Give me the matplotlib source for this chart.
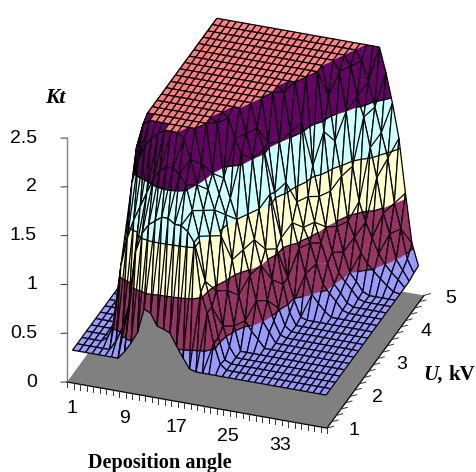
import matplotlib
matplotlib.use('Agg')
import numpy as np
import matplotlib.pyplot as plt
from mpl_toolkits.mplot3d import proj3d
from mpl_toolkits.mplot3d.art3d import Poly3DCollection, Line3DCollection

plt.rcParams['font.family'] = ['Liberation Sans', 'DejaVu Sans']

# categories along both floor axes
angle = list(range(1, 41))
voltage = [1.0, 1.2, 1.4, 1.6, 1.8, 2.0, 2.2, 2.4, 2.6, 2.8, 3.0, 3.2, 3.4, 3.6, 3.8, 4.0, 4.2, 4.4, 4.6, 4.8, 5.0]
angle_labels = [1, 9, 17, 25, 33]
voltage_labels = [1, 2, 3, 4, 5]
kt_labels = ['0', '0.5', '1', '1.5', '2', '2.5']
kt_ticks = [0, 0.5, 1, 1.5, 2, 2.5]

# Kt, one row per voltage, one value per angle
kt_1_0 = [.3,.3,.3,.3,.3,.3,.3,.3,.38,.48, .6,.85,.82,.7,.68,.65,.53,.42,.32,.3, .3,.3,.3,.3,.3,.3,.3,.3,.3,.3, .3,.3,.3,.3,.3,.3,.3,.3,.3,.3]
kt_1_2 = [.3,.3,.3,.3,.3,.3,.4,.55,.8,1.35, 1.55,1.65,1.7,1.75,1.75,1.7,1.7,1.65,1.55,1.05, .85,.55,.35,.3,.3,.3,.3,.3,.3,.3, .3,.3,.3,.3,.3,.3,.3,.3,.3,.3]
kt_1_4 = [.3,.3,.3,.3,.35,.5,1.1,1.4,1.6,1.75, 1.9,2.05,2.15,2.2,2.2,2.15,2.05,1.8,1.55,1.1, .85,.55,.33,.3,.3,.3,.3,.3,.3,.3, .3,.3,.3,.3,.3,.3,.3,.3,.3,.3]
kt_1_6 = [.3,.3,.3,.3,.3,.45,1.3,1.9,2.15,2.3, 2.4,2.45,2.5,2.5,2.5,2.45,2.25,2.0,1.75,1.5, .95,.6,.4,.3,.3,.3,.3,.3,.3,.3, .3,.3,.3,.3,.3,.3,.3,.3,.3,.3]
kt_1_8 = [.3,.3,.3,.3,.3,.35,1.5,2.2,2.45,2.5, 2.5,2.5,2.5,2.5,2.5,2.5,2.5,2.15,1.9,1.7, 1.45,.9,.55,.3,.3,.3,.3,.3,.3,.3, .3,.3,.3,.3,.3,.3,.3,.3,.3,.3]
kt_2_0 = [.3,.3,.3,.3,.3,.3,1.3,2.3,2.5,2.5, 2.5,2.5,2.5,2.5,2.5,2.5,2.5,2.5,2.0,1.8, 1.6,1.15,.8,.55,.45,.38,.3,.3,.3,.3, .3,.3,.3,.3,.3,.3,.3,.3,.3,.3]
kt_2_2 = [.3,.3,.3,.3,.3,.3,1.0,2.2,2.5,2.5, 2.5,2.5,2.5,2.5,2.5,2.5,2.5,2.5,2.45,1.9, 1.7,1.5,1.2,.95,.7,.5,.4,.3,.3,.3, .3,.3,.3,.3,.3,.3,.3,.3,.3,.3]
kt_2_4 = [.3,.3,.3,.3,.3,.3,1.0,2.2,2.5,2.5, 2.5,2.5,2.5,2.5,2.5,2.5,2.5,2.5,2.5,2.45, 2.25,2.1,1.5,1.25,1.0,.65,.45,.32,.3,.3, .3,.3,.3,.3,.3,.3,.3,.3,.3,.3]
kt_2_6 = [.3,.3,.3,.3,.3,.3,1.0,2.2,2.5,2.5, 2.5,2.5,2.5,2.5,2.5,2.5,2.5,2.5,2.5,2.5, 2.5,2.25,2.0,1.5,1.1,.8,.52,.35,.3,.3, .3,.3,.3,.3,.3,.3,.3,.3,.3,.3]
kt_2_8 = [.3,.3,.3,.3,.3,.3,1.0,2.2,2.5,2.5, 2.5,2.5,2.5,2.5,2.5,2.5,2.5,2.5,2.5,2.5, 2.5,2.5,2.25,2.05,1.6,1.05,.7,.42,.3,.3, .3,.3,.3,.3,.3,.3,.3,.3,.3,.3]
kt_3_0 = [.3,.3,.3,.3,.3,.3,1.0,2.2,2.5,2.5, 2.5,2.5,2.5,2.5,2.5,2.5,2.5,2.5,2.5,2.5, 2.5,2.5,2.5,2.05,1.55,1.1,.7,.48,.32,.3, .3,.3,.3,.3,.3,.3,.3,.3,.3,.3]
kt_3_2 = [.3,.3,.3,.3,.3,.3,1.0,2.2,2.5,2.5, 2.5,2.5,2.5,2.5,2.5,2.5,2.5,2.5,2.5,2.5, 2.5,2.5,2.5,2.5,2.0,1.6,1.2,.95,.7,.5, .42,.35,.3,.3,.3,.3,.3,.3,.3,.3]
kt_3_4 = [.3,.3,.3,.3,.3,.3,1.0,2.2,2.5,2.5, 2.5,2.5,2.5,2.5,2.5,2.5,2.5,2.5,2.5,2.5, 2.5,2.5,2.5,2.5,2.45,2.05,1.35,1.1,.95,.75, .55,.47,.4,.32,.3,.3,.3,.3,.3,.3]
kt_3_6 = [.3,.3,.3,.3,.3,.3,1.0,2.2,2.5,2.5, 2.5,2.5,2.5,2.5,2.5,2.5,2.5,2.5,2.5,2.5, 2.5,2.5,2.5,2.5,2.5,2.5,2.1,1.35,1.1,.9, .7,.5,.42,.33,.3,.3,.3,.3,.3,.3]
kt_3_8 = [.3,.3,.3,.3,.3,.3,1.0,2.2,2.5,2.5, 2.5,2.5,2.5,2.5,2.5,2.5,2.5,2.5,2.5,2.5, 2.5,2.5,2.5,2.5,2.5,2.5,2.5,1.6,1.3,1.0, .75,.55,.47,.4,.32,.3,.3,.3,.3,.3]
kt_4_0 = [.3,.3,.3,.3,.3,.3,1.0,2.2,2.5,2.5, 2.5,2.5,2.5,2.5,2.5,2.5,2.5,2.5,2.5,2.5, 2.5,2.5,2.5,2.5,2.5,2.5,2.5,2.5,1.9,1.3, .95,.7,.5,.42,.33,.3,.3,.3,.3,.3]
kt_4_2 = [.3,.3,.3,.3,.3,.3,1.0,2.2,2.5,2.5, 2.5,2.5,2.5,2.5,2.5,2.5,2.5,2.5,2.5,2.5, 2.5,2.5,2.5,2.5,2.5,2.5,2.5,2.5,2.2,1.75, 1.4,.95,.8,.65,.55,.48,.42,.36,.31,.3]
kt_4_4 = [.3,.3,.3,.3,.3,.3,1.0,2.2,2.5,2.5, 2.5,2.5,2.5,2.5,2.5,2.5,2.5,2.5,2.5,2.5, 2.5,2.5,2.5,2.5,2.5,2.5,2.5,2.5,2.5,2.4, 2.0,1.45,1.1,.9,.75,.6,.5,.43,.37,.3]
kt_4_6 = [.3,.3,.3,.3,.3,.3,1.0,2.2,2.5,2.5, 2.5,2.5,2.5,2.5,2.5,2.5,2.5,2.5,2.5,2.5, 2.5,2.5,2.5,2.5,2.5,2.5,2.5,2.5,2.5,2.5, 2.4,2.1,1.9,1.6,1.3,.95,.75,.5,.4,.3]
kt_4_8 = [.3,.3,.3,.3,.3,.3,1.0,2.2,2.5,2.5, 2.5,2.5,2.5,2.5,2.5,2.5,2.5,2.5,2.5,2.5, 2.5,2.5,2.5,2.5,2.5,2.5,2.5,2.5,2.5,2.5, 2.5,2.4,2.2,1.95,1.7,1.45,1.0,.75,.45,.32]
kt_5_0 = [.3,.3,.3,.3,.3,.3,1.0,2.2,2.5,2.5, 2.5,2.5,2.5,2.5,2.5,2.5,2.5,2.5,2.5,2.5, 2.5,2.5,2.5,2.5,2.5,2.5,2.5,2.5,2.5,2.5, 2.5,2.5,2.5,2.5,2.25,1.95,1.6,1.05,.55,.33]

kt = np.array([kt_1_0, kt_1_2, kt_1_4, kt_1_6, kt_1_8, kt_2_0, kt_2_2, kt_2_4, kt_2_6, kt_2_8, kt_3_0,
               kt_3_2, kt_3_4, kt_3_6, kt_3_8, kt_4_0, kt_4_2, kt_4_4, kt_4_6, kt_4_8, kt_5_0])

levels = [0.5, 1.0, 1.5, 2.0, 2.5]
band_colors = ['#9999FF', '#993366', '#FFFFCC', '#CCFFFF', '#660066', '#FF8080']

XMIN, XMAX, YMIN, YMAX = 0.5, 40.5, 0.9, 5.1
W, H = 477, 472

fig = plt.figure(figsize=(4.77, 4.72), dpi=100)
ax = fig.add_axes([0, 0, 1, 1], projection='3d', proj_type='ortho')
ax.set_xlim(XMIN, XMAX)
ax.set_ylim(YMIN, YMAX)
ax.set_zlim(0, 2.5)
ax.view_init(elev=29.5, azim=-70.2)
ax.set_axis_off()
ax.patch.set_alpha(0)
ax.computed_zorder = False


def to_px(x, y, z):
    ax.apply_aspect()
    xp, yp, _ = proj3d.proj_transform(x, y, z, ax.get_proj())
    return ax.transData.transform((xp, yp))


# fit floor corners on the pixel spots of the reference (y up here)
ax.set_box_aspect((276, 286, 280), zoom=1)
p0 = to_px(XMIN, YMIN, 0)
p1 = to_px(XMAX, YMAX, 0)
k = (424 - 67) / (p1[0] - p0[0])
ax.set_box_aspect((276, 286, 280), zoom=k)
p0 = to_px(XMIN, YMIN, 0)
ax.set_position([(67 - p0[0]) / W, ((H - 382) - p0[1]) / H, 1, 1])


def label3d(x, y, z, s, **kw):
    px = to_px(x, y, z)
    fig.text(px[0] / W, px[1] / H, s, va='center', fontsize=14, **kw)


def clip_z(poly, lo, hi):
    for bound, sign in ((lo, 1), (hi, -1)):
        out = []
        for n in range(len(poly)):
            a, b = poly[n], poly[(n + 1) % len(poly)]
            ina = sign * (a[2] - bound) >= 0
            inb = sign * (b[2] - bound) >= 0
            if ina:
                out.append(a)
            if ina != inb:
                t = (bound - a[2]) / (b[2] - a[2])
                out.append(tuple(a[m] + t * (b[m] - a[m]) for m in range(3)))
        poly = out
        if not poly:
            break
    return poly


def level_segment(tri, lev):
    pts = []
    for n in range(3):
        a, b = tri[n], tri[(n + 1) % 3]
        if (a[2] - lev) * (b[2] - lev) < 0:
            t = (lev - a[2]) / (b[2] - a[2])
            pts.append(tuple(a[m] + t * (b[m] - a[m]) for m in range(3)))
    return pts if len(pts) == 2 else None


# floor, axes and ticks
floor = [[(XMIN, YMIN, 0), (XMAX, YMIN, 0), (XMAX, YMAX, 0), (XMIN, YMAX, 0)]]
ax.add_collection3d(Poly3DCollection(floor, facecolors='#808080', edgecolors='none', zorder=1))
ax.plot([XMIN, XMAX, XMAX], [YMIN, YMIN, YMAX], [0, 0, 0], color='black', lw=0.9, zorder=2)
ax.plot([XMIN, XMIN], [YMIN, YMIN], [0, 2.5], color='#808080', lw=1.0, zorder=2)

for x in np.arange(XMIN, XMAX + 0.5):
    ax.plot([x, x], [YMIN, YMIN], [0, -0.055], color='#333333', lw=0.7, zorder=2)
for y in np.arange(YMIN, YMAX + 0.1, 0.2):
    ax.plot([XMAX, XMAX + 1.0], [y, y], [0, 0.03], color='#333333', lw=0.7, zorder=2)
for z, lab in zip(kt_ticks, kt_labels):
    ax.plot([XMIN, XMIN - 0.9], [YMIN, YMIN], [z, z - 0.012], color='#333333', lw=0.7, zorder=2)
    label3d(XMIN - 4.6, YMIN, z - 0.055, lab, ha='right')
for v in angle_labels:
    label3d(v + 0.3, YMIN, -0.265, str(v), ha='center')
for v in voltage_labels:
    label3d(XMAX + 3.75, 1 + (v - 1) * 1.045, -0.01, str(v), ha='center')

# surface, painted from the far corner to the near one
order = 10
for j in range(len(voltage) - 2, -1, -1):
    for i in range(len(angle) - 1):
        a = (angle[i], voltage[j], kt[j, i])
        b = (angle[i + 1], voltage[j], kt[j, i + 1])
        c = (angle[i + 1], voltage[j + 1], kt[j + 1, i + 1])
        d = (angle[i], voltage[j + 1], kt[j + 1, i])
        tris = [(a, b, c), (a, c, d)]
        polys, cols = [], []
        for tri in tris:
            zs = [p[2] for p in tri]
            edges = [0] + levels + [9]
            for n in range(len(band_colors)):
                lo, hi = edges[n], edges[n + 1]
                if min(zs) >= hi or max(zs) < lo:
                    continue
                piece = clip_z(list(tri), lo, hi)
                if len(piece) >= 3:
                    polys.append(piece)
                    cols.append(band_colors[n])
        coll = Poly3DCollection(polys, facecolors=cols, edgecolors=cols, linewidths=0.25, zorder=order)
        ax.add_collection3d(coll)
        segs = [[a, b], [b, c], [c, d], [d, a]]
        zvals = [a[2], b[2], c[2], d[2]]
        if max(zvals) - min(zvals) > 0.35:
            segs.append([a, c])
        for tri in tris:
            for lev in levels:
                s = level_segment(tri, lev)
                if s:
                    segs.append(s)
        ax.add_collection3d(Line3DCollection(segs, colors='black', linewidths=0.9, zorder=order + 1))
        order += 2

fig.text(55 / W, 1 - 98 / H, 'Kt', family='Liberation Serif', weight='bold', style='italic',
         fontsize=15.5, ha='center', va='center')
fig.text(423 / W, 1 - 375 / H, 'U,', family='Liberation Serif', weight='bold', style='italic',
         fontsize=15, ha='left', va='center')
fig.text(448 / W, 1 - 375 / H, 'kV', family='Liberation Serif', weight='bold',
         fontsize=15, ha='left', va='center')
fig.text(160 / W, 1 - 463 / H, 'Deposition angle', family='Liberation Serif', weight='bold',
         fontsize=14.6, ha='center', va='center')

fig.savefig('out.png', dpi=100)
